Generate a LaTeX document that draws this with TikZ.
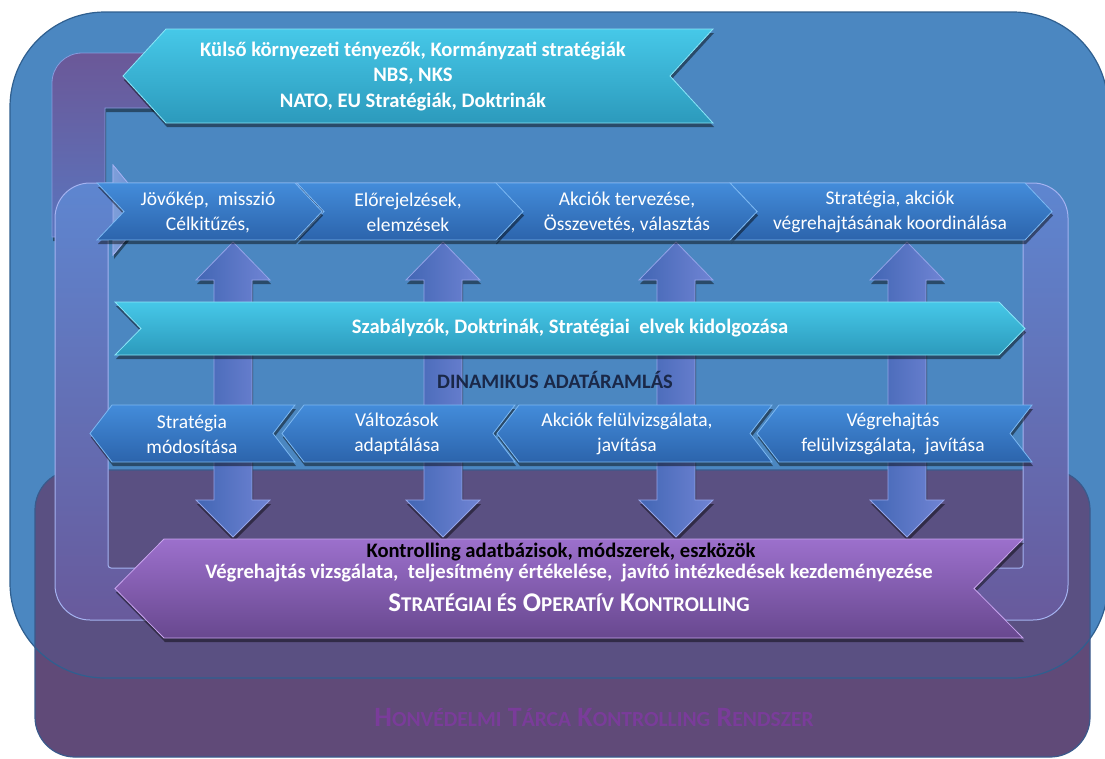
\documentclass[tikz,border=0pt]{standalone}
\usepackage{fontspec}
\setmainfont{Carlito}
\usetikzlibrary{shadows}

\definecolor{bgblue}{HTML}{4B87C1}
\definecolor{bgblueline}{HTML}{2F5F8F}
\definecolor{bgpurple}{HTML}{604A78}
\definecolor{bgmix}{HTML}{5A5082}
\definecolor{bgpurpleline}{HTML}{3A5A8C}
\definecolor{cyantop}{HTML}{46C8E8}
\definecolor{cyanbot}{HTML}{2C9ABC}
\definecolor{cyanedge}{HTML}{8AE6F8}
\definecolor{chevtop}{HTML}{438CDA}
\definecolor{chevbot}{HTML}{2C64AC}
\definecolor{chevedge}{HTML}{7CB8F2}
\definecolor{purtop}{HTML}{9C70CC}
\definecolor{purbot}{HTML}{68488F}
\definecolor{puredge}{HTML}{C8A4EE}
\definecolor{loopAtop}{HTML}{6B5898}
\definecolor{loopAbot}{HTML}{5878C2}
\definecolor{loopBtop}{HTML}{5E86D0}
\definecolor{loopBbot}{HTML}{685A9C}
\definecolor{loopedge}{HTML}{A4B2F0}
\definecolor{shaftL}{HTML}{4266B4}
\definecolor{shaftR}{HTML}{7084D4}
\definecolor{dynnavy}{HTML}{1A2848}
\definecolor{titlepurple}{HTML}{7A3C9A}

\newcommand\fsc[2]{{\fontsize{#1}{#1}\selectfont #2}}

\tikzset{
  % chevron pointing right: left x, tip x, top y, bottom y, depth
  rchev/.style n args={5}{insert path={
    (#1,#3) -- ({#2-#5},#3) -- (#2,{(#3+#4)/2}) -- ({#2-#5},#4) -- (#1,#4)
    -- ({#1+#5},{(#3+#4)/2}) -- cycle}},
  % chevron pointing left: tip x, right x, top y, bottom y, depth
  lchev/.style n args={5}{insert path={
    (#1,{(#3+#4)/2}) -- ({#1+#5},#3) -- (#2,#3) -- ({#2-#5},{(#3+#4)/2})
    -- (#2,#4) -- ({#1+#5},#4) -- cycle}},
  % double headed vertical arrow centred on x
  dblarrow/.style={insert path={
    ({#1-19},280) -- ({#1-37},280) -- (#1,242) -- ({#1+37},280) -- ({#1+19},280)
    -- ({#1+19},500) -- ({#1+37},500) -- (#1,537) -- ({#1-37},500) -- ({#1-19},500)
    -- cycle}},
  shade3d/.style={drop shadow={shadow xshift=1pt, shadow yshift=-4pt,
    opacity=.45, fill=black}},
  bluechev/.style={top color=chevtop, bottom color=chevbot, draw=chevedge,
    line width=.8pt, shade3d},
  cyanbar/.style={top color=cyantop, bottom color=cyanbot, draw=cyanedge,
    line width=.8pt, shade3d},
  purplebar/.style={top color=purtop, bottom color=purbot, draw=puredge,
    line width=.8pt, shade3d},
  shaft/.style={left color=shaftL, right color=shaftR, draw=loopedge!70!shaftR,
    line width=.8pt, shade3d},
  wtext/.style={text=white, align=center, inner sep=0pt,
    font=\fontsize{19.5}{25}\selectfont},
  btext/.style={text=white, align=center, inner sep=0pt,
    font=\bfseries\fontsize{20.6}{25.5}\selectfont},
}

\begin{document}
\begin{tikzpicture}[x=1pt, y=-1pt]
\useasboundingbox (0,0) rectangle (1105,758);

% ---- background panels ----
\fill[bgpurple, rounded corners=40pt] (35,470) rectangle (1090,757);
\fill[bgblue, rounded corners=95pt] (10,12) rectangle (1108,678);
\begin{scope}
  \clip[rounded corners=40pt] (35,470) rectangle (1090,757);
  \fill[bgmix, rounded corners=95pt] (10,12) rectangle (1108,678);
\end{scope}
\draw[bgblueline, line width=1.2pt, rounded corners=95pt] (10,12) rectangle (1108,678);
\draw[bgpurpleline, line width=1.2pt, rounded corners=40pt] (35,470) rectangle (1090,757);

% ---- feedback loop from the external factors into the first step ----
\path[top color=loopAtop, bottom color=loopAbot, draw=loopedge!60!loopAbot,
      line width=.8pt, shade3d]
  (175,53) -- (82,53) arc[start angle=90, end angle=180, radius=30pt]
  -- (52,237) -- (113,237) -- (113,255) -- (150,210) -- (113,165)
  -- (113,183) -- (105,183) -- (105,108) -- (175,108) -- cycle;

% ---- closed control loop ring ----
\path[even odd rule, top color=loopBtop, bottom color=loopBbot,
      draw=loopedge, line width=1pt]
  [rounded corners=35pt] (55,183) rectangle (1068,620)
  [rounded corners=3pt] (108,237) rectangle (1023,568);

% arrow head entering the first step
\path[left color=loopBtop!80!white, right color=loopBtop, draw=loopedge,
      line width=.8pt]
  (113,165) -- (150,210) -- (113,255) -- cycle;

% ---- dynamic data flow arrows ----
\path[shaft, dblarrow=233];
\path[shaft, dblarrow=443];
\path[shaft, dblarrow=676];
\path[shaft, dblarrow=907];

% ---- external inputs ----
\path[cyanbar, lchev={123}{713}{29}{123}{43}];
\node[btext] (ext) at (413,76)
  {Külső környezeti tényezők, Kormányzati stratégiák\\NBS, NKS\\NATO, EU Stratégiák, Doktrinák};

% ---- planning steps ----
\path[bluechev, rchev={730}{1052}{183}{240}{27}];
\path[bluechev, rchev={495}{757}{183}{240}{27}];
\path[bluechev, rchev={297}{523}{183}{240}{27}];
\path[bluechev, rchev={97}{322}{183}{240}{27}];
\node[wtext] (j1) at (208,212) {Jövőkép,\ \ misszió\\Célkitűzés,};
\node[wtext] (j2) at (408,212) {Előrejelzések,\\elemzések};
\node[wtext] (j3) at (627,212) {Akciók tervezése,\\Összevetés, választás};
\node[wtext] (j4) at (890,212) {Stratégia, akciók\\végrehajtásának koordinálása};

% ---- regulations ribbon ----
\path[cyanbar, rchev={115}{1025}{302}{355}{26}];
\node[btext] (szab) at (570,328) {Szabályzók, Doktrinák, Stratégiai\ \ elvek kidolgozása};

\node[text=dynnavy, inner sep=0pt, font=\bfseries\fontsize{20.5}{22}\selectfont]
  (dyn) at (555,380) {DINAMIKUS ADATÁRAMLÁS};

% ---- review steps ----
\path[bluechev, lchev={90}{295}{405}{462}{22}];
\path[bluechev, lchev={282}{515}{405}{462}{22}];
\path[bluechev, lchev={497}{772}{405}{462}{22}];
\path[bluechev, lchev={757}{1032}{405}{462}{22}];
\node[wtext] (m1) at (192,434) {Stratégia\\módosítása};
\node[wtext] (m2) at (397,434) {Változások\\adaptálása};
\node[wtext] (m3) at (627,434) {Akciók felülvizsgálata,\\javítása};
\node[wtext] (m4) at (893,434) {Végrehajtás\\felülvizsgálata,\ \ javítása};

% ---- controlling ----
\path[purplebar, lchev={115}{1023}{539}{638}{49}];
\node[inner sep=0pt, text=black, font=\bfseries\fontsize{20.6}{22}\selectfont]
  (k1) at (561,552) {Kontrolling adatbázisok, módszerek, eszközök};
\node[inner sep=0pt, text=white, font=\bfseries\fontsize{20.6}{22}\selectfont]
  (k2) at (569,573) {Végrehajtás vizsgálata,\ \ teljesítmény értékelése,\ \ javító intézkedések kezdeményezése};
\node[inner sep=0pt, text=white, font=\bfseries\fontsize{27}{28}\selectfont]
  (k3) at (569,603) {S\fsc{21}{TRATÉGIAI ÉS} O\fsc{21}{PERATÍV} K\fsc{21}{ONTROLLING}};

% ---- system title ----
\node[inner sep=0pt, text=titlepurple, font=\bfseries\fontsize{28}{29}\selectfont]
  (title) at (594,717) {H\fsc{21.5}{ONVÉDELMI} T\fsc{21.5}{ÁRCA} K\fsc{21.5}{ONTROLLING} R\fsc{21.5}{ENDSZER}};
\end{tikzpicture}
\end{document}
